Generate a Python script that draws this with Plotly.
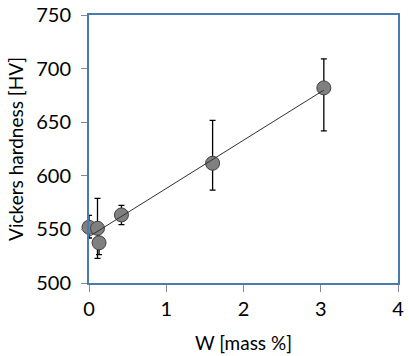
import numpy as np
import plotly.graph_objects as go

w_mass = [0.0, 0.11, 0.13, 0.42, 1.6, 3.04]
hardness = [552, 551, 537.5, 563.5, 611.7, 682]
err_plus = [11, 28, 11, 9, 40, 27]
err_minus = [10, 28, 11, 9, 25, 40]

x_ticks = [0, 1, 2, 3, 4]
y_ticks = [500, 550, 600, 650, 700, 750]

slope, intercept = np.polyfit(w_mass, hardness, 1)
xl = [min(w_mass), max(w_mass)]
yl = [slope * v + intercept for v in xl]

FONT = "Lato, 'Open Sans', sans-serif"
frame = "#4a7ab2"

fig = go.Figure()
fig.add_trace(go.Scatter(
    x=w_mass, y=hardness, mode="markers",
    marker=dict(size=14, color="#808080", line=dict(color="#404040", width=1)),
    error_y=dict(type="data", symmetric=False, array=err_plus, arrayminus=err_minus,
                 color="black", thickness=1.3, width=3),
    showlegend=False, cliponaxis=False,
))
fig.add_trace(go.Scatter(
    x=xl, y=yl, mode="lines", line=dict(color="#303030", width=1),
    showlegend=False, hoverinfo="skip",
))

fig.update_layout(
    width=409, height=356,
    margin=dict(l=89, r=11, t=15, b=73, autoexpand=False),
    paper_bgcolor="white", plot_bgcolor="white",
    font=dict(family=FONT, size=20, color="black"),
)
fig.update_xaxes(
    range=[0, 4], tickvals=x_ticks, showgrid=False, zeroline=False,
    showline=True, linecolor=frame, linewidth=2, mirror=True, automargin=False,
    ticks="outside", ticklen=7, tickcolor="#888888", tickwidth=1,
    title=dict(text="W [mass %]", font=dict(size=19), standoff=18),
)
fig.update_yaxes(
    range=[500, 750], tickvals=y_ticks, showgrid=False, zeroline=False,
    showline=True, linecolor=frame, linewidth=2, mirror=True, automargin=False,
    ticks="outside", ticklen=6, tickcolor="#888888", tickwidth=1,
    ticklabelstandoff=6,
    title=dict(text="Vickers hardness [HV]", font=dict(size=19), standoff=8),
)

fig.write_html("out.html", config={"displayModeBar": False},
               post_script="document.body.style.margin='0px';")
